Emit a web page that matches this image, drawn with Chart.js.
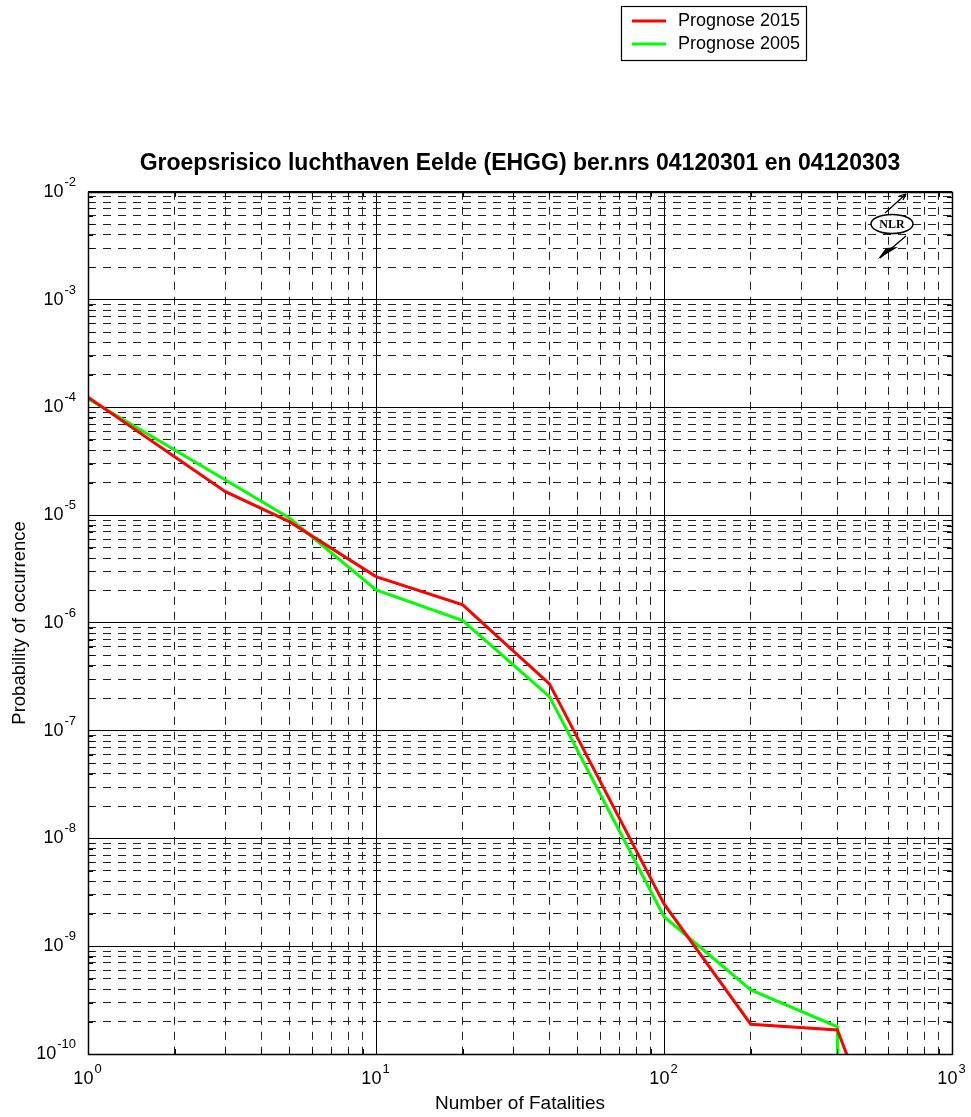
<!DOCTYPE html>
<html><head><meta charset="utf-8">
<script src="https://cdn.jsdelivr.net/npm/chart.js@4/dist/chart.umd.min.js"></script>
<style>html,body{margin:0;padding:0;background:#fff}</style>
</head><body>
<canvas id="c" width="971" height="1117"></canvas>
<script>
// ---- data ----
const seriesLabels = ['Prognose 2015', 'Prognose 2005'];
const fatalities2015 = [1, 3, 5, 10, 20, 40, 100, 200, 400, 437];
const probability2015 = [1.24e-4, 1.65e-5, 8.7e-6, 2.69e-6, 1.47e-6, 2.72e-7, 2.47e-9, 1.89e-10, 1.67e-10, 9e-11];
const fatalities2005 = [1, 3, 5, 10, 20, 40, 100, 200, 400, 400];
const probability2005 = [1.2e-4, 2.12e-5, 9.4e-6, 2.02e-6, 1.05e-6, 2.07e-7, 1.88e-9, 3.93e-10, 1.79e-10, 9e-11];
const xMajorTicks = [1, 10, 100, 1000];
const xTickBase = ['10', '10', '10', '10'];
const xTickExponent = ['0', '1', '2', '3'];
const yMajorTicks = [1e-10, 1e-9, 1e-8, 1e-7, 1e-6, 1e-5, 1e-4, 1e-3, 1e-2];
const yTickBase = ['10', '10', '10', '10', '10', '10', '10', '10', '10'];
const yTickExponent = ['-10', '-9', '-8', '-7', '-6', '-5', '-4', '-3', '-2'];
const titleText = 'Groepsrisico luchthaven Eelde (EHGG) ber.nrs 04120301 en 04120303';
const xTitle = 'Number of Fatalities';
const yTitle = 'Probability of occurrence';

function minorTicks(majors) {
  const out = [];
  for (let i = 0; i < majors.length - 1; i++)
    for (let k = 2; k <= 9; k++) out.push(k * majors[i]);
  return out;
}
const xMinorTicks = minorTicks(xMajorTicks);
const yMinorTicks = minorTicks(yMajorTicks);

const FONT = "'Liberation Sans', Arial, Helvetica, sans-serif";
const BASE_FONT = '18px ' + FONT;
const EXP_FONT = '13px ' + FONT;

const toPoints = (xs, ys) => xs.map((x, i) => ({x: x, y: ys[i]}));

const matlabPlugin = {
  id: 'matlabDecor',
  afterDraw(chart) {
    const ctx = chart.ctx;
    const a = chart.chartArea;
    const xs = chart.scales.x, ys = chart.scales.y;
    ctx.save();
    // inner tick marks
    ctx.strokeStyle = '#000';
    ctx.lineWidth = 1;
    ctx.setLineDash([]);
    ctx.beginPath();
    xMinorTicks.forEach(v => {
      const p = Math.round(xs.getPixelForValue(v)) + 0.5;
      ctx.moveTo(p, a.bottom); ctx.lineTo(p, a.bottom - 5);
      ctx.moveTo(p, a.top); ctx.lineTo(p, a.top + 5);
    });
    yMinorTicks.forEach(v => {
      const p = Math.round(ys.getPixelForValue(v)) + 0.5;
      ctx.moveTo(a.left, p); ctx.lineTo(a.left + 5, p);
      ctx.moveTo(a.right, p); ctx.lineTo(a.right - 5, p);
    });
    ctx.stroke();
    // box
    ctx.lineWidth = 1.5;
    ctx.strokeRect(Math.round(a.left) + 0.5, Math.round(a.top) + 0.5, Math.round(a.right - a.left), Math.round(a.bottom - a.top));

    // tick labels: 10 with raised exponent
    ctx.fillStyle = '#000';
    ctx.textBaseline = 'alphabetic';
    ctx.textAlign = 'left';
    xMajorTicks.forEach((v, i) => {
      const p = xs.getPixelForValue(v);
      ctx.font = BASE_FONT;
      const wb = ctx.measureText(xTickBase[i]).width;
      ctx.font = EXP_FONT;
      const we = ctx.measureText(xTickExponent[i]).width;
      const x0 = p - (wb + we) / 2 - 1;
      ctx.font = BASE_FONT;
      ctx.fillText(xTickBase[i], x0, a.bottom + 30);
      ctx.font = EXP_FONT;
      ctx.fillText(xTickExponent[i], x0 + wb + 1, a.bottom + 19);
    });
    yMajorTicks.forEach((v, i) => {
      const p = ys.getPixelForValue(v);
      ctx.font = EXP_FONT;
      const we = ctx.measureText(yTickExponent[i]).width;
      const xr = a.left - 12;
      ctx.fillText(yTickExponent[i], xr - we, p - 6);
      ctx.font = BASE_FONT;
      const wb = ctx.measureText(yTickBase[i]).width;
      ctx.fillText(yTickBase[i], xr - we - wb - 1, p + 5);
    });

    // legend box
    const lx = 621, ly = 6, lw = 185, lh = 54;
    ctx.fillStyle = '#fff';
    ctx.fillRect(lx, ly, lw, lh);
    ctx.lineWidth = 1.2;
    ctx.strokeStyle = '#000';
    ctx.strokeRect(lx + 0.5, ly + 0.5, lw, lh);
    chart.data.datasets.forEach((ds, i) => {
      const y = ly + 15 + i * 23;
      ctx.strokeStyle = ds.borderColor;
      ctx.lineWidth = 3;
      ctx.beginPath();
      ctx.moveTo(lx + 11, y); ctx.lineTo(lx + 45, y);
      ctx.stroke();
      ctx.fillStyle = '#000';
      ctx.font = '18px ' + FONT;
      ctx.textBaseline = 'middle';
      ctx.textAlign = 'left';
      ctx.fillText(ds.label, lx + 57, y);
    });

    // NLR logo
    const cx = 892, cy = 224;
    ctx.strokeStyle = '#000';
    ctx.fillStyle = '#fff';
    ctx.lineWidth = 1.5;
    ctx.beginPath();
    ctx.ellipse(cx, cy, 21, 9.5, 0, 0, Math.PI * 2);
    ctx.fill();
    ctx.stroke();
    ctx.fillStyle = '#000';
    ctx.font = "bold 12px 'Liberation Serif', 'DejaVu Serif', serif";
    ctx.textAlign = 'center';
    ctx.textBaseline = 'middle';
    ctx.fillText('NLR', cx, cy + 1);
    ctx.lineWidth = 1.3;
    ctx.beginPath();
    ctx.moveTo(885, 213); ctx.lineTo(906, 194);
    ctx.moveTo(906, 194); ctx.lineTo(899, 196);
    ctx.moveTo(906, 194); ctx.lineTo(903, 200);
    ctx.moveTo(906, 236); ctx.lineTo(880, 258);
    ctx.stroke();
    ctx.beginPath();
    ctx.moveTo(878, 259); ctx.lineTo(886, 248); ctx.lineTo(898, 247); ctx.closePath();
    ctx.fill();
    ctx.restore();
  }
};

new Chart(document.getElementById('c'), {
  type: 'line',
  data: {
    datasets: [
      {label: seriesLabels[0], data: toPoints(fatalities2015, probability2015), borderColor: '#ff0000', backgroundColor: '#ff0000', borderWidth: 3, pointRadius: 0, tension: 0, fill: false, clip: 0},
      {label: seriesLabels[1], data: toPoints(fatalities2005, probability2005), borderColor: '#00ff00', backgroundColor: '#00ff00', borderWidth: 3, pointRadius: 0, tension: 0, fill: false, clip: 0}
    ]
  },
  options: {
    responsive: false,
    animation: false,
    layout: {padding: {left: 0, right: 19, top: 0, bottom: 0}},
    plugins: {
      legend: {display: false},
      tooltip: {enabled: false},
      title: {
        display: true, text: titleText, fullSize: false,
        color: '#000',
        font: {family: FONT, size: 23, weight: 'bold'},
        padding: {top: 150, bottom: 14.2}
      }
    },
    scales: {
      x: {
        type: 'logarithmic', position: 'bottom', min: 1, max: 1000,
        afterBuildTicks: s => { s.ticks = xMajorTicks.map(v => ({value: v})); },
        afterFit: s => { s.height = 63; s.paddingLeft = 0; s.paddingRight = 0; },
        ticks: {display: false, autoSkip: false},
        grid: {color: '#000', lineWidth: 1, drawTicks: false},
        border: {display: false},
        title: {display: true, text: xTitle, color: '#000', font: {family: FONT, size: 19}, padding: {top: 0, bottom: 2}}
      },
      xm: {
        type: 'logarithmic', position: 'bottom', min: 1, max: 1000,
        afterBuildTicks: s => { s.ticks = xMinorTicks.map(v => ({value: v})); },
        afterFit: s => { s.height = 0; s.paddingLeft = 0; s.paddingRight = 0; },
        ticks: {display: false},
        grid: {color: '#222', lineWidth: 1, drawTicks: false},
        border: {display: false, dash: [8, 7]}
      },
      y: {
        type: 'logarithmic', position: 'left', min: 1e-10, max: 1e-2,
        afterBuildTicks: s => { s.ticks = yMajorTicks.map(v => ({value: v})); },
        afterFit: s => { s.width = 88; s.paddingTop = 0; s.paddingBottom = 0; },
        ticks: {display: false, autoSkip: false},
        grid: {color: '#000', lineWidth: 1, drawTicks: false},
        border: {display: false},
        title: {display: true, text: yTitle, color: '#000', font: {family: FONT, size: 18.5}, padding: {top: 9, bottom: 0}}
      },
      ym: {
        type: 'logarithmic', position: 'left', min: 1e-10, max: 1e-2,
        afterBuildTicks: s => { s.ticks = yMinorTicks.map(v => ({value: v})); },
        afterFit: s => { s.width = 0; s.paddingTop = 0; s.paddingBottom = 0; },
        ticks: {display: false},
        grid: {color: '#222', lineWidth: 1, drawTicks: false},
        border: {display: false, dash: [8, 7]}
      }
    }
  },
  plugins: [matlabPlugin]
});
</script>
</body></html>
